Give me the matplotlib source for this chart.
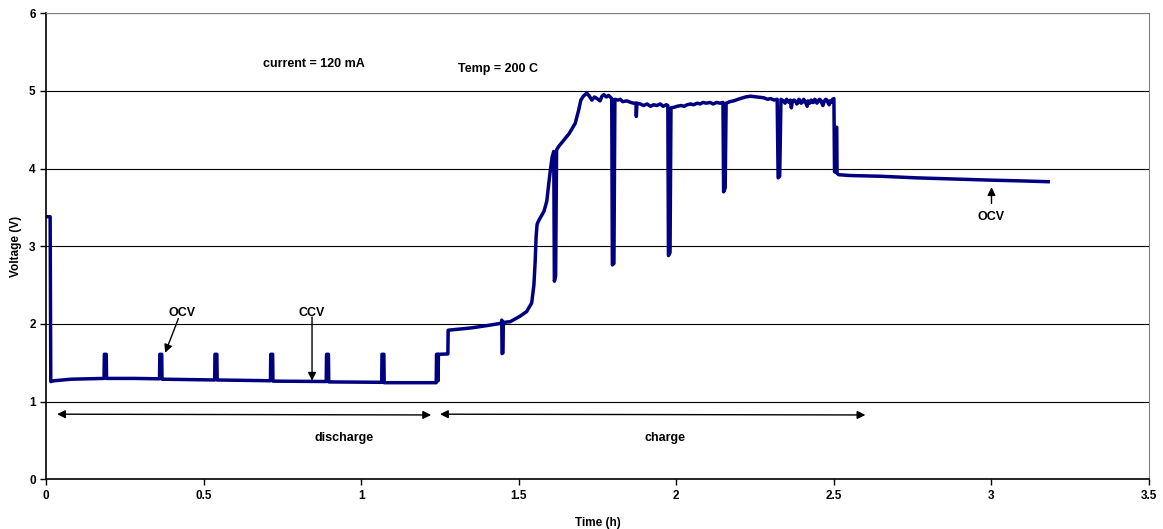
import numpy as np
import matplotlib.pyplot as plt

plt.rcParams['font.family'] = ['Liberation Sans', 'DejaVu Sans']
plt.rcParams['font.weight'] = 'bold'

# discharge part: (time h, voltage V)
dis_t = [0.000, 0.013, 0.015, 0.025, 0.080, 0.184, 0.185, 0.191, 0.192, 0.280,
         0.360, 0.361, 0.367, 0.368, 0.450, 0.535, 0.536, 0.542, 0.543, 0.630,
         0.712, 0.713, 0.719, 0.720, 0.800, 0.889, 0.890, 0.896, 0.897, 0.980,
         1.065, 1.066, 1.072, 1.073, 1.150, 1.238, 1.239, 1.243, 1.244, 1.245,
         1.275]
dis_v = [3.38, 3.38, 1.26, 1.27, 1.29, 1.30, 1.61, 1.61, 1.30, 1.30,
         1.295, 1.61, 1.61, 1.29, 1.285, 1.28, 1.61, 1.61, 1.28, 1.275,
         1.27, 1.61, 1.61, 1.265, 1.262, 1.26, 1.61, 1.61, 1.255, 1.252,
         1.25, 1.61, 1.61, 1.245, 1.245, 1.245, 1.61, 1.61, 1.27, 1.61,
         1.615]

# charge part
chg_t = [1.276, 1.300, 1.350, 1.400, 1.445, 1.446, 1.447, 1.450, 1.451, 1.473,
         1.504, 1.525, 1.541, 1.548, 1.552, 1.555, 1.558, 1.562, 1.573, 1.580,
         1.589, 1.595, 1.600, 1.606, 1.611, 1.613, 1.617, 1.620, 1.626, 1.642,
         1.660, 1.679, 1.690, 1.697, 1.705, 1.716, 1.724, 1.732, 1.740, 1.748,
         1.758, 1.764, 1.770, 1.778, 1.785, 1.795, 1.797, 1.802, 1.805, 1.815,
         1.822, 1.830, 1.843, 1.855, 1.865, 1.872, 1.873, 1.875, 1.886, 1.896,
         1.907, 1.918, 1.928, 1.938, 1.949, 1.958, 1.968, 1.973, 1.975, 1.980,
         1.983, 1.995, 2.002, 2.015, 2.025, 2.034, 2.045, 2.055, 2.066, 2.075,
         2.085, 2.095, 2.107, 2.117, 2.128, 2.139, 2.148, 2.150, 2.155, 2.158,
         2.170, 2.182, 2.203, 2.220, 2.235, 2.256, 2.277, 2.290, 2.299, 2.310,
         2.320, 2.323, 2.328, 2.332, 2.340, 2.345, 2.350, 2.354, 2.358, 2.362,
         2.365, 2.368, 2.373, 2.378, 2.382, 2.385, 2.389, 2.392, 2.396, 2.400,
         2.404, 2.408, 2.412, 2.415, 2.418, 2.423, 2.428, 2.432, 2.435, 2.439,
         2.442, 2.446, 2.450, 2.454, 2.458, 2.462, 2.465, 2.470, 2.474, 2.478,
         2.482, 2.485, 2.488, 2.492, 2.496, 2.500, 2.502, 2.506, 2.507, 2.509,
         2.510, 2.515]
chg_v = [1.92, 1.93, 1.95, 1.98, 2.01, 2.05, 1.62, 1.63, 2.02, 2.03,
         2.10, 2.16, 2.27, 2.50, 2.80, 3.12, 3.28, 3.32, 3.40, 3.45,
         3.58, 3.80, 3.97, 4.15, 4.22, 2.55, 2.62, 4.24, 4.28, 4.36,
         4.45, 4.58, 4.75, 4.88, 4.93, 4.97, 4.93, 4.88, 4.92, 4.90,
         4.87, 4.93, 4.95, 4.92, 4.94, 4.90, 2.76, 2.78, 4.89, 4.88,
         4.89, 4.86, 4.87, 4.85, 4.84, 4.84, 4.67, 4.84, 4.83, 4.81,
         4.83, 4.80, 4.82, 4.81, 4.83, 4.80, 4.82, 4.81, 2.88, 2.92,
         4.78, 4.79, 4.80, 4.81, 4.80, 4.82, 4.83, 4.82, 4.84, 4.83,
         4.85, 4.84, 4.85, 4.83, 4.85, 4.84, 4.85, 3.70, 3.75, 4.84,
         4.86, 4.87, 4.90, 4.92, 4.93, 4.92, 4.91, 4.89, 4.90, 4.88,
         4.89, 3.88, 3.90, 4.89, 4.87, 4.84, 4.89, 4.86, 4.85, 4.88,
         4.78, 4.86, 4.88, 4.87, 4.83, 4.84, 4.89, 4.88, 4.84, 4.85,
         4.89, 4.87, 4.83, 4.80, 4.87, 4.84, 4.88, 4.85, 4.85, 4.89,
         4.88, 4.84, 4.86, 4.89, 4.88, 4.84, 4.81, 4.87, 4.89, 4.88,
         4.84, 4.82, 4.87, 4.85, 4.89, 4.90, 3.96, 3.95, 4.53, 4.53,
         3.94, 3.92]

# open circuit rest after charge
ocv_t = [2.515, 2.550, 2.650, 2.760, 2.880, 3.000, 3.100, 3.180]
ocv_v = [3.92, 3.91, 3.90, 3.88, 3.865, 3.85, 3.84, 3.83]

time_h = np.array(dis_t + chg_t + ocv_t)
volt = np.array(dis_v + chg_v + ocv_v)

fig = plt.figure(figsize=(11.63, 5.29), dpi=100)
ax = fig.add_axes([0.0396, 0.0936, 0.9484, 0.8818])

ax.plot(time_h, volt, color='#000080', linewidth=2.5, solid_joinstyle='round')

ax.set_xlim(0, 3.5)
ax.set_ylim(0, 6)
ax.set_xticks([0, 0.5, 1, 1.5, 2, 2.5, 3, 3.5])
ax.set_xticklabels(['0', '0.5', '1', '1.5', '2', '2.5', '3', '3.5'])
ax.set_yticks(range(0, 7))
ax.yaxis.grid(True, color='black', linewidth=0.8)
ax.set_axisbelow(True)
ax.tick_params(labelsize=8.5, length=4, width=1, color='black')
for lab in ax.get_xticklabels() + ax.get_yticklabels():
    lab.set_fontweight('bold')
ax.spines['left'].set_color('black')
ax.spines['bottom'].set_color('black')
ax.spines['left'].set_linewidth(1.2)
ax.spines['bottom'].set_linewidth(1.2)
ax.spines['top'].set_color('#808080')
ax.spines['right'].set_color('#808080')

ax.set_xlabel('Time (h)', fontsize=8.5, fontweight='bold', labelpad=11)
ax.set_ylabel('Voltage (V)', fontsize=8.5, fontweight='bold', labelpad=5)

arw = dict(arrowstyle='-|>', color='black', lw=1, mutation_scale=12, shrinkA=0, shrinkB=0)
dbl = dict(arrowstyle='<|-|>', color='black', lw=1, mutation_scale=12, shrinkA=0, shrinkB=0)

fs = 9
ax.text(0.85, 5.34, 'current = 120 mA', fontsize=fs, fontweight='bold', ha='center', va='center')
ax.text(1.435, 5.28, 'Temp = 200 C', fontsize=fs, fontweight='bold', ha='center', va='center')

ax.annotate('', xy=(0.378, 1.63), xytext=(0.42, 2.07), arrowprops=arw)
ax.text(0.431, 2.14, 'OCV', fontsize=fs, fontweight='bold', ha='center', va='center')
ax.annotate('', xy=(0.844, 1.27), xytext=(0.844, 2.09), arrowprops=arw)
ax.text(0.844, 2.14, 'CCV', fontsize=fs, fontweight='bold', ha='center', va='center')
ax.annotate('', xy=(3.0, 3.76), xytext=(3.0, 3.55), arrowprops=arw)
ax.text(3.0, 3.37, 'OCV', fontsize=fs, fontweight='bold', ha='center', va='center')

ax.annotate('', xy=(0.035, 0.84), xytext=(1.222, 0.83), arrowprops=dbl)
ax.text(0.945, 0.53, 'discharge', fontsize=fs, fontweight='bold', ha='center', va='center')
ax.annotate('', xy=(1.25, 0.84), xytext=(2.60, 0.83), arrowprops=dbl)
ax.text(1.965, 0.53, 'charge', fontsize=fs, fontweight='bold', ha='center', va='center')

plt.savefig('out.png', dpi=100)
